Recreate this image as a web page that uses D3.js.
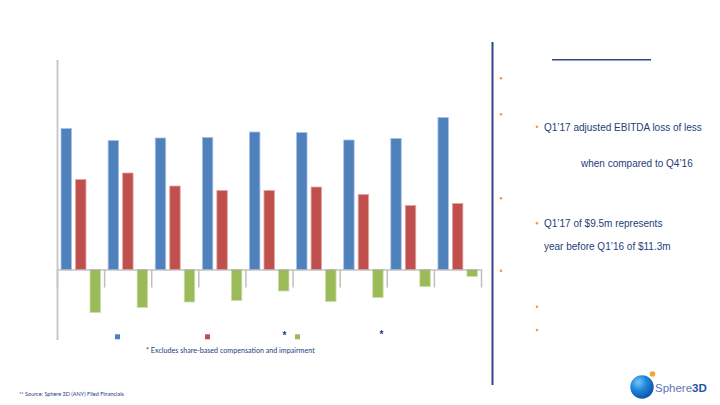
<!DOCTYPE html>
<html><head><meta charset="utf-8">
<script src="https://cdnjs.cloudflare.com/ajax/libs/d3/7.8.5/d3.min.js"></script>
<style>
html,body{margin:0;padding:0;background:#fff;}
svg{display:block;}
</style></head>
<body>
<svg id="c" width="720" height="405"></svg>
<script>
// ---- data ----
const categories = ["Q1'15","Q2'15","Q3'15","Q4'15","Q1'16","Q2'16","Q3'16","Q4'16","Q1'17"];
const seriesNames = ["Series A","Series B","Series C"];
const seriesA = [14.1, 12.9, 13.15, 13.2, 13.75, 13.7, 12.95, 13.1, 15.2];
const seriesB = [9.0, 9.65, 8.35, 7.9, 7.9, 8.25, 7.5, 6.4, 6.6];
const seriesC = [-4.3, -3.8, -3.25, -3.1, -2.15, -3.2, -2.8, -1.7, -0.7];
const seriesColors = ["#4F81BD","#C0504D","#9BBB59"];
const seriesEdges = ["#A9C1E2","#E3A5A3","#CBDDA8"];
const footnote = "* Excludes share-based compensation and impairment";
const sourceNote = "** Source: Sphere 3D (ANY) Filed Financials";
const bulletLines = [
  {lvl:2, text:"Q1’17 adjusted EBITDA loss of less"},
  {lvl:2, text:"Q1’17 of $9.5m represents"}
];

const svg = d3.select("#c");
const navy = "#263D7A";

// ---- scales ----
const x0 = d3.scaleBand().domain(categories).range([57, 481]).paddingInner(0).paddingOuter(0);
const x1 = d3.scaleBand().domain(seriesNames).range([2, x0.bandwidth() - 1.6]).paddingInner(0.28).paddingOuter(0.14);
const y = d3.scaleLinear().domain([-7, 21]).range([339.5, 59.5]);
const xb = d3.scaleLinear().domain([0, categories.length]).range([57, 481]);

const table = categories.map((c,i)=>({cat:c, vals:[seriesA[i], seriesB[i], seriesC[i]]}));

// ---- bars ----
const g = svg.append("g");
const groups = g.selectAll("g.cat").data(table).join("g")
  .attr("transform", d => `translate(${x0(d.cat)},0)`);
groups.selectAll("rect").data(d => d.vals.map((v,k)=>({v, k}))).join("rect")
  .attr("x", d => x1(seriesNames[d.k]))
  .attr("width", x1.bandwidth())
  .attr("y", d => y(Math.max(0, d.v)))
  .attr("height", d => Math.abs(y(d.v) - y(0)))
  .attr("fill", d => seriesColors[d.k])
  .attr("stroke", d => seriesEdges[d.k])
  .attr("stroke-width", 0.8);

// ---- category axis (boundary ticks) ----
const xAxis = svg.append("g").attr("transform", `translate(0,${y(0)})`)
  .call(d3.axisBottom(xb).tickValues(d3.range(0, categories.length + 1)).tickSize(18).tickSizeOuter(0).tickFormat(""));
xAxis.select(".domain").attr("stroke", "#A6A6A6").attr("stroke-width", 1.2);
xAxis.selectAll(".tick line").attr("stroke", "#BFBFBF").attr("stroke-width", 1.5);

// ---- value axis ----
const yAxis = svg.append("g").attr("transform", "translate(57,0)")
  .call(d3.axisLeft(y).tickValues([]).tickSizeOuter(0));
yAxis.select(".domain").attr("stroke", "#C4C4C4").attr("stroke-width", 1.8);

// ---- legend ----
const legX = [115, 205, 295];
svg.selectAll("rect.leg").data(seriesNames).join("rect").attr("class","leg")
  .attr("x", (d,i)=>legX[i]).attr("y", 334.3).attr("width", 5).attr("height", 5)
  .attr("fill", (d,i)=>seriesColors[i]);
svg.selectAll("text.ast").data([284.5, 381.5]).join("text").attr("class","ast")
  .attr("x", d=>d)
  .attr("y", (d,i)=>[339.2, 337.6][i])
  .attr("text-anchor","middle")
  .attr("font-family","'Liberation Sans', Arial, sans-serif").attr("font-size", 10).attr("font-weight","bold")
  .attr("fill", navy).text("*");

// ---- footnotes ----
svg.append("text").attr("x", 146).attr("y", 353)
  .attr("font-family","Lato, 'Open Sans', sans-serif").attr("font-size", 7.15)
  .attr("fill", navy).text(footnote);
svg.append("text").attr("x", 19).attr("y", 396)
  .attr("font-family","Lato, 'Open Sans', sans-serif").attr("font-size", 5.5)
  .attr("fill", navy).text(sourceNote);

// ---- right panel ----
svg.append("line").attr("x1", 492.5).attr("x2", 492.5).attr("y1", 42).attr("y2", 385)
  .attr("stroke", "#2E4588").attr("stroke-width", 2);
svg.append("line").attr("x1", 552).attr("x2", 651).attr("y1", 59.8).attr("y2", 59.8)
  .attr("stroke", "#2E4588").attr("stroke-width", 1.6);

const orange = "#F79646";
const bullets1 = [78.3, 114.3, 198.3, 270.7];
const bullets2 = [126.7, 223.3, 306.7, 330];
svg.selectAll("circle.b1").data(bullets1).join("circle").attr("class","b1")
  .attr("cx", 501).attr("cy", d=>d).attr("r", 1.3).attr("fill", orange);
svg.selectAll("circle.b2").data(bullets2).join("circle").attr("class","b2")
  .attr("cx", 537).attr("cy", d=>d).attr("r", 1.3).attr("fill", orange);

const txt = (x, yy, s) => svg.append("text").attr("x", x).attr("y", yy)
  .attr("font-family","'Liberation Sans', Arial, sans-serif").attr("font-size", 10)
  .attr("fill", navy).text(s);
txt(544, 130.5, bulletLines[0].text);
txt(581, 167, "when compared to Q4’16");
txt(544, 227, bulletLines[1].text);
txt(544, 250, "year before Q1’16 of $11.3m");

// ---- logo ----
const defs = svg.append("defs");
const rg = defs.append("radialGradient").attr("id","sph").attr("cx","35%").attr("cy","30%").attr("r","75%");
rg.append("stop").attr("offset","0%").attr("stop-color","#7CC4F5");
rg.append("stop").attr("offset","45%").attr("stop-color","#1E88DC");
rg.append("stop").attr("offset","100%").attr("stop-color","#0B4FA8");
svg.append("circle").attr("cx", 642).attr("cy", 387).attr("r", 11.7).attr("fill","url(#sph)");
svg.append("circle").attr("cx", 652.5).attr("cy", 374).attr("r", 2.8).attr("fill","#F6A630");
const lt = svg.append("text").attr("x", 655).attr("y", 391.5)
  .attr("font-family","'Liberation Sans', Arial, sans-serif").attr("font-size", 11.5);
lt.append("tspan").attr("fill","#5C74B5").text("Sphere");
lt.append("tspan").attr("fill","#1D55A8").attr("font-weight","bold").text("3D");
</script>
</body></html>
